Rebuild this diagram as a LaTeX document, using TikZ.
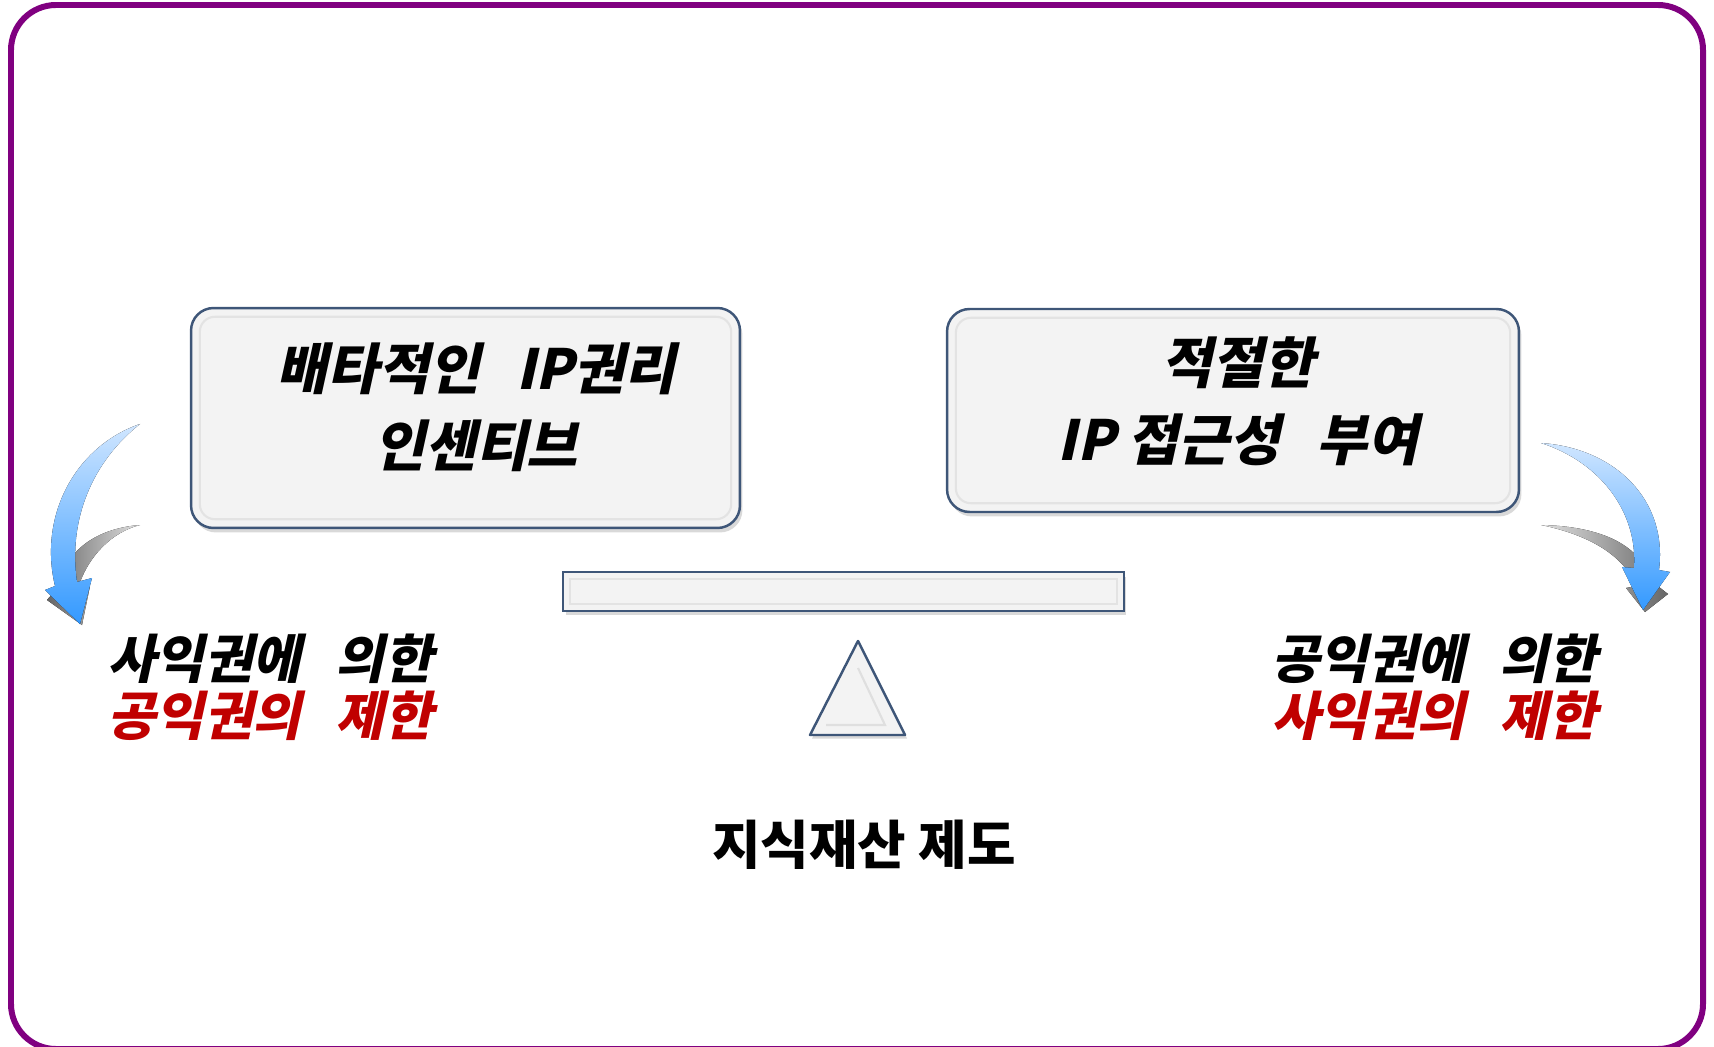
\documentclass[tikz,border=0pt]{standalone}
\usepackage{fontspec}
\newfontfamily\krfont{Noto Sans CJK KR}
\newfontfamily\krslant{Noto Sans CJK KR}[FakeSlant=0.22, BoldFeatures={FakeSlant=0.22}]
\usetikzlibrary{shadows,positioning}
\definecolor{framepurple}{RGB}{128,0,128}
\definecolor{edgeblue}{RGB}{62,86,120}
\definecolor{panelgray}{RGB}{243,243,243}
\definecolor{limitred}{RGB}{192,0,0}
\definecolor{skylight}{RGB}{208,230,255}
\definecolor{skydeep}{RGB}{51,153,255}
\newcommand{\wsp}{\hspace{0.65em}}
\tikzset{
  panelbox/.style={draw=edgeblue, line width=1.4pt, fill=panelgray,
    drop shadow={shadow xshift=0.05cm, shadow yshift=-0.09cm, opacity=0.3}},
  bevel/.style={draw=gray!22, line width=1.2pt},
  boxtext/.style={font=\krslant\bfseries\fontsize{31.5}{44}\selectfont, align=center},
  sidetext/.style={font=\krslant\bfseries\fontsize{30}{32}\selectfont},
  basetext/.style={font=\krfont\bfseries\fontsize{30}{32}\selectfont},
  bluearrow/.style={top color=skylight, bottom color=skydeep},
}

\begin{document}
\begin{tikzpicture}[x=0.02cm, y=-0.02cm]
\useasboundingbox (0,0) rectangle (1714,1047);
\draw[framepurple, line width=3.4pt, rounded corners=0.9cm] (11,5) rectangle (1703,1049);

% the two weighing pans
\node[panelbox, rounded corners=0.45cm, minimum width=10.98cm, minimum height=4.4cm] (incentive) at (465.5,418) {};
\draw[bevel, rounded corners=0.3cm] ([shift={(10,10)}]incentive.north west) rectangle ([shift={(-10,-10)}]incentive.south east);
\node[boxtext] (incentivetxt) at (476,407) {배타적인\wsp IP권리\\인센티브};

\node[panelbox, rounded corners=0.45cm, minimum width=11.44cm, minimum height=4.06cm] (access) at (1233,410.5) {};
\draw[bevel, rounded corners=0.3cm] ([shift={(10,10)}]access.north west) rectangle ([shift={(-10,-10)}]access.south east);
\node[boxtext] (accesstxt) at (1238,401) {적절한\\IP 접근성\wsp 부여};

% beam and fulcrum
\node[panelbox, minimum width=11.22cm, minimum height=0.78cm] (beam) at (843.5,591.5) {};
\draw[bevel] ([shift={(8,8)}]beam.north west) rectangle ([shift={(-8,-8)}]beam.south east);
\coordinate (apex) at (858,641);
\coordinate (baseR) at (905,735);
\coordinate (baseL) at (810,735);
\draw[edgeblue, line width=1.4pt, fill=panelgray, line join=round,
  drop shadow={shadow xshift=0.04cm, shadow yshift=-0.07cm, opacity=0.3}] (apex) -- (baseR) -- (baseL) -- cycle;
\draw[gray!25, line width=1.2pt] (858,668) -- (885,725) -- (826,725);
\node[basetext] (system) at (864,845) {지식재산 제도};

% left arrow
\fill[left color=black!60, right color=black!12] (140,525) .. controls (100,528) and (66,548) .. (60,585)
  -- (47,600) -- (82,625) -- (90,586) -- (78,588) .. controls (88,556) and (112,532) .. cycle;
\fill[bluearrow] (140,424) .. controls (76,446) and (38,515) .. (55,586)
  -- (45,590) -- (80,624) -- (92,578) -- (77,582) .. controls (68,520) and (92,462) .. cycle;
\node[sidetext] (privlbl) at (270,659) {사익권에\wsp 의한};
\node[sidetext, text=limitred] (publim) at (270,716) {공익권의\wsp 제한};

% right arrow
\fill[left color=black!12, right color=black!60] (1541,525) .. controls (1595,526) and (1640,542) .. (1650,580)
  -- (1668,594) -- (1645,612) -- (1626,588) -- (1636,586) .. controls (1624,556) and (1590,535) .. cycle;
\fill[bluearrow] (1541,443) .. controls (1615,448) and (1668,500) .. (1659,570)
  -- (1670,572) -- (1643,610) -- (1622,567) -- (1634,568) .. controls (1638,512) and (1600,462) .. cycle;
\node[sidetext] (publbl) at (1434,659) {공익권에\wsp 의한};
\node[sidetext, text=limitred] (privlim) at (1434,716) {사익권의\wsp 제한};
\end{tikzpicture}
\end{document}
